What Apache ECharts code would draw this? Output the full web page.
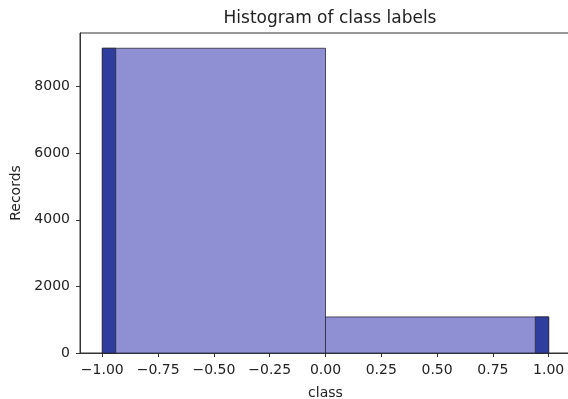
<!DOCTYPE html>
<html>
<head>
<meta charset="utf-8">
<script src="https://cdn.jsdelivr.net/npm/echarts@6/dist/echarts.min.js"></script>
<style>
  html, body { margin: 0; padding: 0; background: #fff; }
  #chart { width: 568px; height: 399px; }
</style>
</head>
<body>
<div id="chart"></div>
<script>
// Coarse histogram: two bins over [-1, 1]
const coarseStart = [-1.0, 0.0];
const coarseEnd = [0.0, 1.0];
const coarseCount = [9152, 1083];

// Fine histogram: only the two edge bins are non-empty
const fineStart = [-1.0, 0.94];
const fineEnd = [-0.94, 1.0];
const fineCount = [9152, 1083];

const xTicks = [-1.0, -0.75, -0.5, -0.25, 0.0, 0.25, 0.5, 0.75, 1.0];
const yTicks = [0, 2000, 4000, 6000, 8000];

const FONT = 'DejaVu Sans';

function rows(starts, ends, counts) {
  return starts.map((s, i) => [s, ends[i], counts[i]]);
}

function barRenderer(fill) {
  return function (params, api) {
    const p0 = api.coord([api.value(0), 0]);
    const p1 = api.coord([api.value(1), api.value(2)]);
    return {
      type: 'rect',
      shape: { x: p0[0], y: p1[1], width: p1[0] - p0[0], height: p0[1] - p1[1] },
      style: { fill: fill, stroke: '#2a2a3a', lineWidth: 0.8 }
    };
  };
}

const fmtX = v => v.toFixed(2).replace('-', '\u2212');
const fmtY = v => String(Math.round(v));

const chart = echarts.init(document.getElementById('chart'), null, { renderer: 'canvas' });
chart.setOption({
  animation: false,
  title: {
    text: 'Histogram of class labels',
    left: 325, top: 5, textAlign: 'center',
    textStyle: { fontFamily: FONT, fontSize: 17, fontWeight: 'normal', color: '#222' }
  },
  grid: {
    left: 80, right: -3, top: 33, bottom: 46,
    outerBoundsMode: 'none', containLabel: false,
    show: true, borderColor: '#333', borderWidth: 1
  },
  xAxis: {
    type: 'value', min: -1.1, max: 1.1,
    name: 'class', nameLocation: 'middle', nameGap: 33,
    nameTextStyle: { fontFamily: FONT, fontSize: 14, color: '#222' },
    splitLine: { show: false },
    axisLine: { show: true, onZero: false, lineStyle: { color: '#333' } },
    axisTick: { show: true, length: 4, customValues: xTicks, lineStyle: { color: '#333' } },
    axisLabel: {
      customValues: xTicks, margin: 10, formatter: fmtX,
      fontFamily: FONT, fontSize: 14, color: '#222'
    }
  },
  yAxis: {
    type: 'value', min: 0, max: 9610,
    name: 'Records', nameLocation: 'middle', nameGap: 55, nameRotate: 90,
    nameTextStyle: { fontFamily: FONT, fontSize: 14, color: '#222' },
    splitLine: { show: false },
    axisLine: { show: true, onZero: false, lineStyle: { color: '#333' } },
    axisTick: { show: true, length: 4, customValues: yTicks, lineStyle: { color: '#333' } },
    axisLabel: {
      customValues: yTicks, margin: 10, formatter: fmtY,
      fontFamily: FONT, fontSize: 14, color: '#222'
    }
  },
  series: [
    {
      type: 'custom', name: 'coarse',
      renderItem: barRenderer('#8f8fd3'),
      encode: { x: [0, 1], y: 2 },
      data: rows(coarseStart, coarseEnd, coarseCount)
    },
    {
      type: 'custom', name: 'fine',
      renderItem: barRenderer('#2e3d9e'),
      encode: { x: [0, 1], y: 2 },
      data: rows(fineStart, fineEnd, fineCount)
    }
  ]
});
</script>
</body>
</html>
